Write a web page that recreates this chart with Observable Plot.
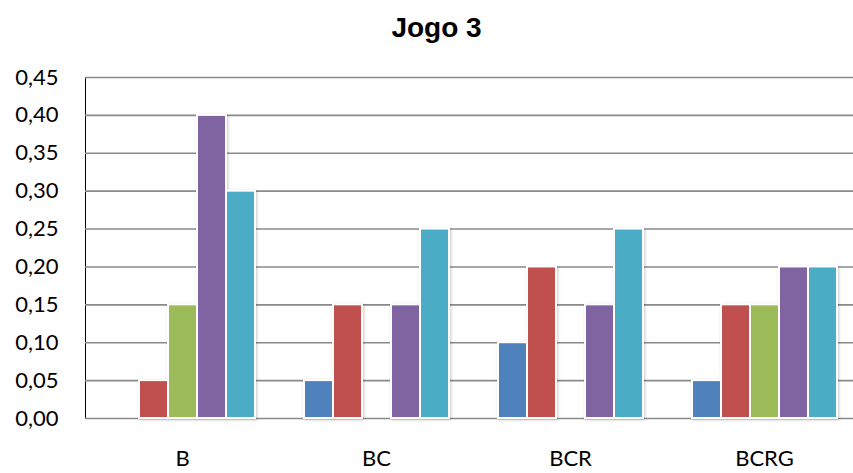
<!DOCTYPE html>
<html>
<head>
<meta charset="utf-8">
<script src="https://cdn.jsdelivr.net/npm/d3@7"></script>
<script src="https://cdn.jsdelivr.net/npm/@observablehq/plot@0.6"></script>
<style>
  html, body { margin: 0; padding: 0; background: #fff; }
  #wrap { position: relative; width: 853px; height: 473px; overflow: hidden; }
  #title {
    position: absolute; left: 0; width: 873px; top: 12px;
    text-align: center; font: bold 28px "Liberation Sans", Arial, sans-serif; color: #000;
  }
  #chart svg { display: block; }
  #chart g[aria-label="y-axis"] { color: #8a8a8a; }
  #chart g[aria-label="y-axis"] text { fill: #000; }
  #chart g[aria-label="bar"] { filter: drop-shadow(1.5px 1.5px 1.5px rgba(0,0,0,0.22)); }
</style>
</head>
<body>
<div id="wrap">
  <div id="chart"></div>
  <div id="title">Jogo 3</div>
</div>
<script>
// Categories on the horizontal axis
const categories = ["B", "BC", "BCR", "BCRG"];
// Series (one bar per series in each category) and their fills
const seriesNames = ["Série 1", "Série 2", "Série 3", "Série 4", "Série 5"];
const seriesColors = ["#4f81bd", "#c0504d", "#9bbb59", "#8064a2", "#4bacc6"];
// Values per series, in category order
const serie1 = [0.00, 0.05, 0.10, 0.05];
const serie2 = [0.05, 0.15, 0.20, 0.15];
const serie3 = [0.15, 0.00, 0.00, 0.15];
const serie4 = [0.40, 0.15, 0.15, 0.20];
const serie5 = [0.30, 0.25, 0.25, 0.20];
// Value axis ticks
const yTicks = [0, 0.05, 0.10, 0.15, 0.20, 0.25, 0.30, 0.35, 0.40, 0.45];

const seriesValues = [serie1, serie2, serie3, serie4, serie5];
const data = [];
categories.forEach((cat, i) => {
  seriesNames.forEach((s, j) => {
    data.push({cat, serie: s, value: seriesValues[j][i]});
  });
});
const bars = data.filter(d => d.value > 0);

const chart = Plot.plot({
  width: 853,
  height: 473,
  marginTop: 77,
  marginBottom: 55,
  marginLeft: 84,
  marginRight: -9,
  style: {fontFamily: "Lato, sans-serif", fontSize: "22px", color: "#000", background: "#fff"},
  facet: {data: bars, x: "cat"},
  fx: {domain: categories, padding: 0, label: null, axis: "bottom", tickSize: 0, tickPadding: 32},
  x: {domain: seriesNames, paddingInner: 0, paddingOuter: 0.74, axis: null},
  y: {
    domain: [0, 0.45], ticks: yTicks, label: null, line: true,
    tickSize: 0, tickPadding: 27,
    tickFormat: d => d.toFixed(2).replace(".", ",")
  },
  color: {domain: seriesNames, range: seriesColors},
  marks: [
    Plot.ruleY(yTicks, {stroke: "#8a8a8a", strokeWidth: 1.6}),
    Plot.barY(bars, {x: "serie", y: "value", fill: "serie", stroke: "#fff", strokeWidth: 2})
  ]
});
document.getElementById("chart").appendChild(chart);
</script>
</body>
</html>
